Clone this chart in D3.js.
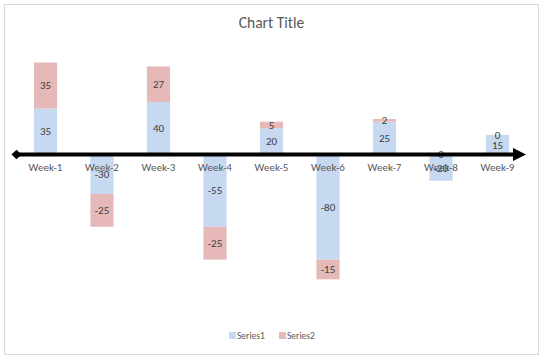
<!DOCTYPE html>
<html><head><meta charset="utf-8">
<script src="https://cdn.jsdelivr.net/npm/d3@7"></script>
<style>body{margin:0;background:#fff}svg{display:block}text{font-family:Carlito,Calibri,"Liberation Sans",Arial,sans-serif}</style>
</head><body><svg id="c" width="543" height="359"></svg>
<script>
const categories = ["Week-1","Week-2","Week-3","Week-4","Week-5","Week-6","Week-7","Week-8","Week-9"];
const series1 = [35,-30,40,-55,20,-80,25,-20,15];
const series2 = [35,-25,27,-25,5,-15,2,0,0];
const seriesNames = ["Series1","Series2"];
const colors = ["#C6D9F1","#E6B9B8"];

const svg = d3.select("#c");
svg.append("rect").attr("x",4.5).attr("y",4.5).attr("width",534).attr("height",350)
  .attr("fill","#fff").attr("stroke","#D9D9D9").attr("stroke-width",1);

svg.append("text").attr("x",271.5).attr("y",28).attr("text-anchor","middle")
  .attr("font-size",15.5).attr("fill","#595959").text("Chart Title");

const x = d3.scaleBand().domain(categories).range([17.25,525.75]).paddingInner(0.59).paddingOuter(0.295);
const y = d3.scaleLinear().domain([-100,80]).range([285.9,49.4]);

// stacking (Excel style: positives up, negatives down)
const rows = categories.map((c,i)=>({cat:c,s1:series1[i],s2:series2[i]}));
const stack = d3.stack().keys(["s1","s2"]).offset(d3.stackOffsetDiverging);
const layers = stack(rows);

const g = svg.append("g");
layers.forEach((layer,li)=>{
  g.selectAll(null).data(layer).enter().append("rect")
    .attr("x",d=>x(d.data.cat))
    .attr("width",x.bandwidth())
    .attr("y",d=>y(Math.max(d[0],d[1])))
    .attr("height",d=>Math.abs(y(d[0])-y(d[1])))
    .attr("fill",colors[li]);
});

// axis line with arrow
const y0 = y(0);
svg.append("line").attr("x1",16).attr("x2",518).attr("y1",y0).attr("y2",y0)
  .attr("stroke","#000").attr("stroke-width",4);
svg.append("path").attr("d",`M11.5,${y0} L16.5,${y0-4.8} L21.5,${y0} L16.5,${y0+4.8} Z`).attr("fill","#000");
svg.append("path").attr("d",`M513,${y0-6.5} L526,${y0} L513,${y0+6.5} Z`).attr("fill","#000");

// category labels
const xAxis = d3.axisBottom(x).tickSize(0).tickPadding(0);
const ax = svg.append("g").attr("transform",`translate(0,${y0+9})`).call(xAxis);
ax.select(".domain").remove();
ax.selectAll("text").attr("font-size",11).attr("fill","#595959").attr("dy","0.71em")
  .style("font-family","Carlito,Calibri,'Liberation Sans',Arial,sans-serif");

// data labels
layers.forEach((layer,li)=>{
  g.selectAll(null).data(layer).enter().append("text")
    .attr("x",d=>x(d.data.cat)+x.bandwidth()/2)
    .attr("y",d=>{
      const v = d.data[li===0?"s1":"s2"];
      let a=d[0],b=d[1];
      if(v===0 && li===1){ // zero-valued: sits at top of stack of same sign
        const base = d.data.s1>=0 ? d.data.s1 : 0;
        return y(base);
      }
      return (y(a)+y(b))/2;
    })
    .attr("dy","0.35em").attr("text-anchor","middle")
    .attr("font-size",11).attr("fill","#404040")
    .text(d=>d.data[li===0?"s1":"s2"]);
});

// legend
const leg = svg.append("g");
const lx = [229,279];
seriesNames.forEach((n,i)=>{
  leg.append("rect").attr("x",lx[i]).attr("y",332).attr("width",7).attr("height",7).attr("fill",colors[i]);
  leg.append("text").attr("x",lx[i]+8).attr("y",336).attr("dy","0.35em")
    .attr("font-size",9.5).attr("fill","#595959").text(n);
});
</script></body></html>
